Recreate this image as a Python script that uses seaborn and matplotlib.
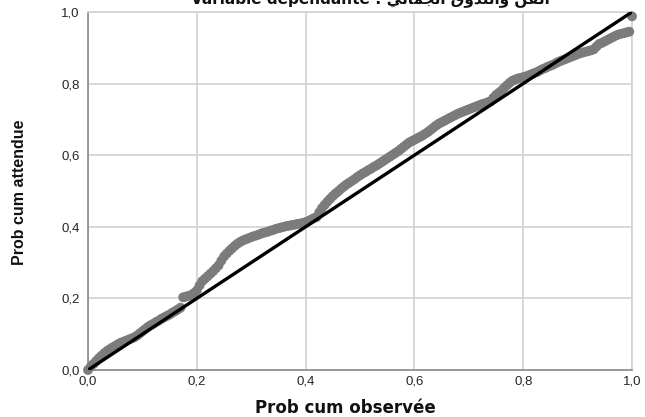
import matplotlib
matplotlib.use("Agg")
import matplotlib.pyplot as plt
from matplotlib.ticker import FuncFormatter
import seaborn as sns
import pandas as pd

# Observed cumulative probability of each case (x)
prob_observed = [
    0.000, 0.005, 0.010, 0.015, 0.020, 0.025, 0.030, 0.035, 0.040, 0.045,
    0.050, 0.055, 0.060, 0.065, 0.070, 0.075, 0.080, 0.085, 0.090, 0.095,
    0.100, 0.105, 0.110, 0.115, 0.120, 0.125, 0.130, 0.135, 0.140, 0.145,
    0.150, 0.155, 0.160, 0.165, 0.170, 0.175, 0.180, 0.185, 0.190, 0.195,
    0.200, 0.205, 0.210, 0.215, 0.220, 0.225, 0.230, 0.235, 0.240, 0.245,
    0.250, 0.255, 0.260, 0.265, 0.270, 0.275, 0.280, 0.285, 0.290, 0.295,
    0.300, 0.305, 0.310, 0.315, 0.320, 0.325, 0.330, 0.335, 0.340, 0.345,
    0.350, 0.355, 0.360, 0.365, 0.370, 0.375, 0.380, 0.385, 0.390, 0.395,
    0.400, 0.405, 0.410, 0.415, 0.420, 0.425, 0.430, 0.435, 0.440, 0.445,
    0.450, 0.455, 0.460, 0.465, 0.470, 0.475, 0.480, 0.485, 0.490, 0.495,
    0.500, 0.505, 0.510, 0.515, 0.520, 0.525, 0.530, 0.535, 0.540, 0.545,
    0.550, 0.555, 0.560, 0.565, 0.570, 0.575, 0.580, 0.585, 0.590, 0.595,
    0.600, 0.605, 0.610, 0.615, 0.620, 0.625, 0.630, 0.635, 0.640, 0.645,
    0.650, 0.655, 0.660, 0.665, 0.670, 0.675, 0.680, 0.685, 0.690, 0.695,
    0.700, 0.705, 0.710, 0.715, 0.720, 0.725, 0.730, 0.735, 0.740, 0.745,
    0.750, 0.755, 0.760, 0.765, 0.770, 0.775, 0.780, 0.785, 0.790, 0.795,
    0.800, 0.805, 0.810, 0.815, 0.820, 0.825, 0.830, 0.835, 0.840, 0.845,
    0.850, 0.855, 0.860, 0.865, 0.870, 0.875, 0.880, 0.885, 0.890, 0.895,
    0.900, 0.905, 0.910, 0.915, 0.920, 0.925, 0.930, 0.935, 0.940, 0.945,
    0.950, 0.955, 0.960, 0.965, 0.970, 0.975, 0.980, 0.985, 0.990, 0.995,
    1.000,
]
# Expected cumulative probability under normality (y)
prob_expected = [
    0.000, 0.009, 0.017, 0.025, 0.033, 0.040, 0.047, 0.053, 0.058, 0.063,
    0.067, 0.072, 0.076, 0.079, 0.082, 0.085, 0.088, 0.091, 0.096, 0.102,
    0.108, 0.114, 0.120, 0.125, 0.129, 0.134, 0.138, 0.143, 0.147, 0.151,
    0.155, 0.160, 0.164, 0.169, 0.174, 0.203, 0.205, 0.207, 0.210, 0.215,
    0.222, 0.236, 0.248, 0.255, 0.262, 0.269, 0.276, 0.284, 0.292, 0.305,
    0.317, 0.325, 0.333, 0.340, 0.347, 0.353, 0.358, 0.362, 0.365, 0.368,
    0.371, 0.374, 0.376, 0.379, 0.382, 0.384, 0.386, 0.389, 0.391, 0.394,
    0.396, 0.398, 0.400, 0.402, 0.403, 0.405, 0.406, 0.408, 0.409, 0.411,
    0.413, 0.416, 0.420, 0.424, 0.427, 0.440, 0.452, 0.461, 0.470, 0.478,
    0.486, 0.493, 0.499, 0.506, 0.512, 0.518, 0.523, 0.528, 0.533, 0.539,
    0.544, 0.549, 0.553, 0.558, 0.562, 0.567, 0.571, 0.576, 0.581, 0.586,
    0.591, 0.596, 0.601, 0.606, 0.611, 0.617, 0.623, 0.629, 0.635, 0.639,
    0.643, 0.647, 0.651, 0.655, 0.660, 0.665, 0.671, 0.677, 0.683, 0.688,
    0.692, 0.696, 0.700, 0.704, 0.708, 0.712, 0.716, 0.719, 0.722, 0.725,
    0.728, 0.731, 0.734, 0.737, 0.740, 0.743, 0.745, 0.748, 0.750, 0.760,
    0.768, 0.774, 0.780, 0.788, 0.795, 0.802, 0.808, 0.811, 0.814, 0.816,
    0.818, 0.820, 0.823, 0.826, 0.829, 0.832, 0.836, 0.840, 0.843, 0.847,
    0.850, 0.853, 0.857, 0.861, 0.864, 0.867, 0.870, 0.873, 0.876, 0.879,
    0.882, 0.885, 0.887, 0.889, 0.891, 0.893, 0.896, 0.904, 0.911, 0.914,
    0.918, 0.922, 0.926, 0.930, 0.934, 0.937, 0.939, 0.941, 0.943, 0.945,
    0.988,
]

# Reference diagonal (perfect normality)
diagonal = [0.0, 1.0]

tick_values = [0.0, 0.2, 0.4, 0.6, 0.8, 1.0]

x_label = "Prob cum observée"
y_label = "Prob cum attendue"

# Arabic part of the title, written with presentation forms in display order
# (matplotlib performs no Arabic shaping or right-to-left reordering)
word_1 = "\uFE8D\uFEDF\uFED4\uFEE6"                                   # الفن
word_2 = "\uFEED\uFE8D\uFEDF\uFE98\uFEAC\uFEED\uFED5"                 # والتذوق
word_3 = "\uFE8D\uFEDF\uFEA0\uFEE4\uFE8E\uFEDF\uFEF2"                 # الجمالي
arabic_display = " ".join(w[::-1] for w in (word_3, word_2, word_1))
title_text = "Variable dépendante : " + arabic_display

df = pd.DataFrame({"observed": prob_observed, "expected": prob_expected})
df_diag = pd.DataFrame({"x": diagonal, "y": diagonal})

sns.set_theme(style="whitegrid")
plt.rcParams["font.family"] = ["Liberation Sans", "DejaVu Sans"]

fig = plt.figure(figsize=(6.45, 4.17), dpi=100)
ax = fig.add_axes([88 / 645, 1 - 370 / 417, 544 / 645, 358 / 417])
ax.set_facecolor("white")

sns.scatterplot(data=df, x="observed", y="expected", color="#7b7b7b",
                s=50, edgecolor="none", linewidth=0, ax=ax, zorder=3,
                clip_on=False)
sns.lineplot(data=df_diag, x="x", y="y", color="black", linewidth=2.4,
             ax=ax, zorder=4)

ax.set_xlim(0, 1)
ax.set_ylim(0, 1)
ax.set_xticks(tick_values)
ax.set_yticks(tick_values)
fmt = FuncFormatter(lambda v, _: f"{v:.1f}".replace(".", ","))
ax.xaxis.set_major_formatter(fmt)
ax.yaxis.set_major_formatter(fmt)
ax.tick_params(axis="both", length=0, labelsize=9.5, labelcolor="#262626")
ax.tick_params(axis="x", pad=4)
ax.tick_params(axis="y", pad=6)

ax.grid(True, color="#d2d2d2", linewidth=1.2)
for side in ("top", "right"):
    ax.spines[side].set_color("#d2d2d2")
    ax.spines[side].set_linewidth(1.2)
for side in ("left", "bottom"):
    ax.spines[side].set_color("#8a8a8a")
    ax.spines[side].set_linewidth(1.2)

ax.set_xlabel("")
ax.set_ylabel("")
fig.text(345 / 645, 1 - 408 / 417, x_label, ha="center", va="center",
         fontsize=12, fontweight="bold", family=["DejaVu Sans"], color="#111111")
fig.text(20 / 645, 1 - 192 / 417, y_label, ha="center", va="center",
         rotation=90, fontsize=11.5, fontweight="bold",
         family=["Liberation Sans Narrow", "Liberation Sans", "DejaVu Sans"],
         color="#111111")
fig.text(370 / 645, 1 - 3 / 417, title_text, ha="center", va="baseline",
         fontsize=11, fontweight="bold", family=["DejaVu Sans"], color="#111111")

fig.savefig("out.png", dpi=100, facecolor="white")
